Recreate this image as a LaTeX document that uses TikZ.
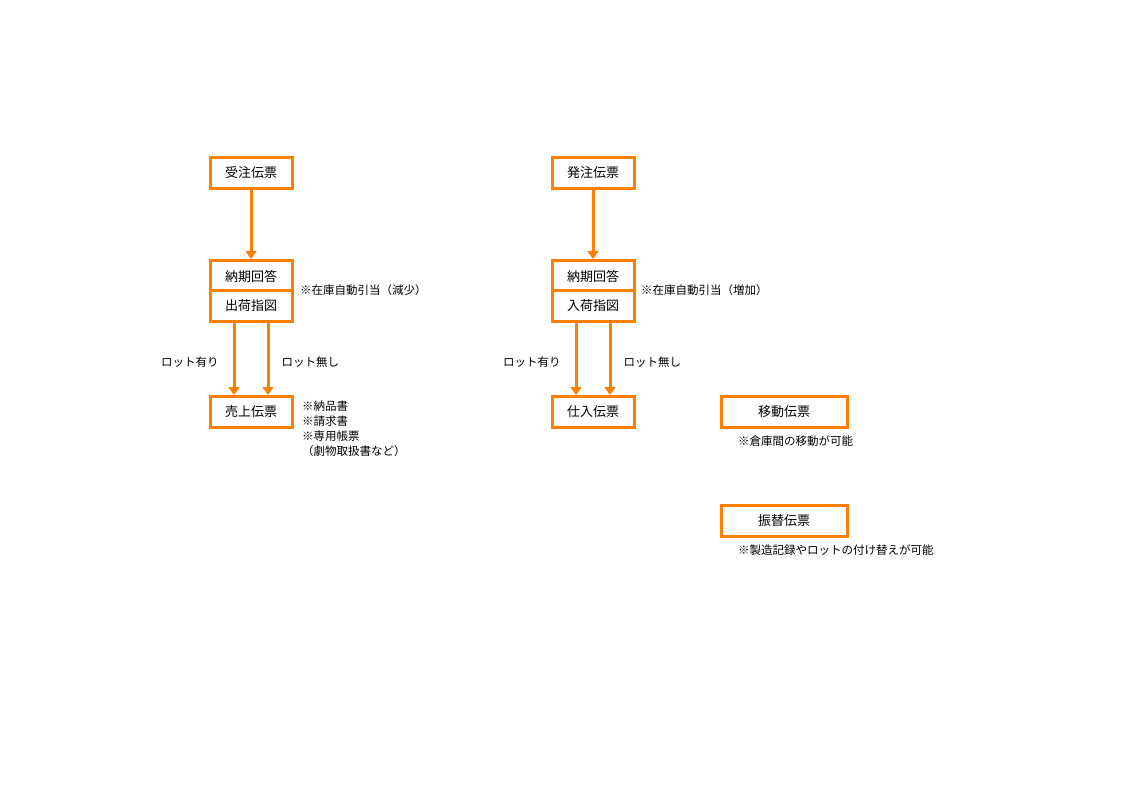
\documentclass[tikz,border=0pt]{standalone}
\usepackage{fontspec}
\setmainfont{Noto Sans CJK JP}
\usetikzlibrary{arrows.meta}
\definecolor{boxorange}{RGB}{255,128,0}
\tikzset{
  slip/.style={draw=boxorange, line width=3pt, fill=white, minimum width=82pt, minimum height=31pt, inner sep=0pt, font=\fontsize{13}{14}\selectfont},
  wideslip/.style={slip, minimum width=126pt},
  flow/.style={draw=boxorange, line width=3pt, -{Triangle[length=8pt,width=11pt]}},
  note/.style={font=\fontsize{11.5}{15}\selectfont, inner sep=0pt}
}
\begin{document}
\begin{tikzpicture}[x=1pt, y=-1pt]
  \useasboundingbox (0,0) rectangle (1124,795);

  % 受注側
  \node[slip] (juchu) at (251,173) {受注伝票};
  \node[slip] (noki1) at (251,276) {納期回答};
  \node[slip] (shukka) at (251,306) {出荷指図};
  \node[slip] (uriage) at (251,412) {売上伝票};
  \draw[flow] (juchu) -- (noki1);
  \draw[flow] ([xshift=-17pt]shukka.south) -- ([xshift=-17pt]uriage.north) node[pos=0.55, left=14pt, note] {ロット有り};
  \draw[flow] ([xshift=17pt]shukka.south) -- ([xshift=17pt]uriage.north) node[pos=0.55, right=12pt, note] {ロット無し};
  \node[note, anchor=west] (genshou) at (300,290) {※在庫自動引当（減少）};
  \node[note, anchor=north west, align=left] (chouhyou) at (302,401) {※納品書\\※請求書\\※専用帳票\\（劇物取扱書など）};

  % 発注側
  \node[slip] (hatchu) at (593,173) {発注伝票};
  \node[slip] (noki2) at (593,276) {納期回答};
  \node[slip] (nyuka) at (593,306) {入荷指図};
  \node[slip] (shiire) at (593,412) {仕入伝票};
  \draw[flow] (hatchu) -- (noki2);
  \draw[flow] ([xshift=-17pt]nyuka.south) -- ([xshift=-17pt]shiire.north) node[pos=0.55, left=14pt, note] {ロット有り};
  \draw[flow] ([xshift=17pt]nyuka.south) -- ([xshift=17pt]shiire.north) node[pos=0.55, right=12pt, note] {ロット無し};
  \node[note, anchor=west] (zouka) at (641,290) {※在庫自動引当（増加）};

  % 移動・振替
  \node[wideslip] (idou) at (784,412) {移動伝票};
  \node[note, anchor=west] (idounote) at (738,441) {※倉庫間の移動が可能};
  \node[wideslip] (furikae) at (784,521) {振替伝票};
  \node[note, anchor=west] (furikaenote) at (738,550) {※製造記録やロットの付け替えが可能};
\end{tikzpicture}
\end{document}
